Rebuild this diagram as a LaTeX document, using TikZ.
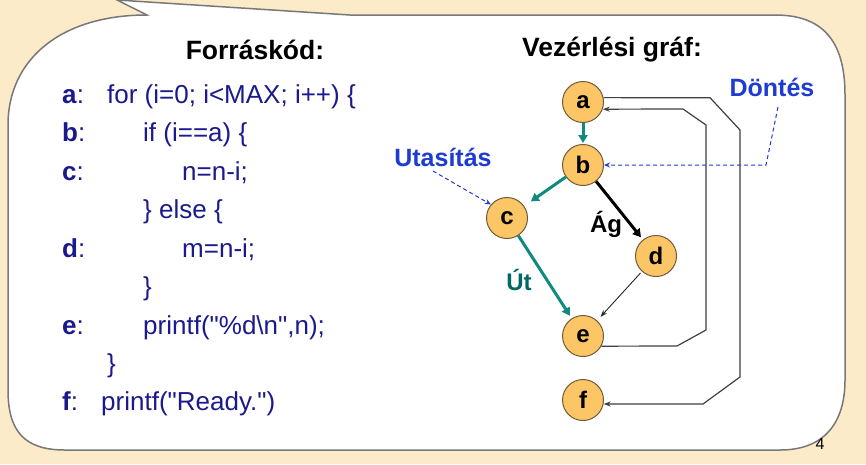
\documentclass[tikz,border=0pt]{standalone}
\usepackage{fontspec}
\setmainfont{Liberation Sans}[Ligatures=TeXOff]
\usetikzlibrary{arrows.meta,calc}

\definecolor{pagebg}{RGB}{252,235,201}
\definecolor{frameline}{RGB}{120,120,120}
\definecolor{codeblue}{RGB}{26,26,140}
\definecolor{noteblue}{RGB}{30,60,210}
\definecolor{flowteal}{RGB}{15,138,128}
\definecolor{labteal}{RGB}{0,105,100}
\definecolor{nodefill}{RGB}{252,197,101}
\definecolor{nodeline}{RGB}{110,90,60}

\tikzset{
  codeline/.style={anchor=base west, inner sep=0pt, text=codeblue,
    font=\fontsize{26}{30}\selectfont},
  title/.style={inner sep=0pt, font=\fontsize{26.5}{30}\selectfont\bfseries},
  cfgnode/.style={circle, draw=nodeline, line width=1pt, fill=nodefill,
    minimum size=41pt, inner sep=0pt, font=\fontsize{24}{26}\selectfont\bfseries},
  note/.style={inner sep=0pt, text=noteblue, font=\fontsize{25}{28}\selectfont\bfseries},
  flow/.style={draw=flowteal, line width=3pt, -{Triangle[length=8pt,width=9pt]}},
  branch/.style={draw=black, line width=3pt, -{Triangle[length=8pt,width=9pt]}},
  thinflow/.style={draw=black!85, line width=0.9pt, -{Stealth[length=7pt,width=5pt]}},
  loopline/.style={draw=black!75, line width=1.2pt, -{Stealth[length=7pt,width=5pt]}},
  notearrow/.style={draw=noteblue, line width=1pt, dash pattern=on 4pt off 3pt,
    -{Stealth[length=6pt,width=5pt]}},
}

\newcommand{\lbl}[1]{\textbf{#1}:}

\begin{document}
\begin{tikzpicture}[x=1pt,y=-1pt]
  % page background and the callout frame
  \fill[pagebg] (0,0) rectangle (866,464);
  \useasboundingbox (0,0) rectangle (866,464);
  \draw[frameline, line width=1.5pt, fill=white]
    (117,0) -- (147,15)
    .. controls (60,15) and (8,60) .. (8,125)
    -- (8,390)
    .. controls (8,432) and (25,450) .. (65,450)
    -- (780,450)
    .. controls (825,450) and (845,422) .. (845,380)
    -- (845,95)
    .. controls (845,40) and (822,15) .. (775,15)
    -- (350,15) -- cycle;

  \node[inner sep=0pt, font=\fontsize{16}{18}\selectfont] (pagenum) at (820,444) {4};

  % headings
  \node[title] (srchead) at (255,50) {Forráskód:};
  \node[title] (cfghead) at (612,50) {Vezérlési gráf:};

  % source code listing
  \node[codeline] (la) at (62,103)   {\lbl{a}};
  \node[codeline] (ca) at (107,103)  {for (i=0; i<MAX; i++) \{};
  \node[codeline] (lb) at (62,141.5) {\lbl{b}};
  \node[codeline] (cb) at (143,141.5){if (i==a) \{};
  \node[codeline] (lc) at (62,180)   {\lbl{c}};
  \node[codeline] (cc) at (182,180)  {n=n-i;};
  \node[codeline] (ce) at (143,218)  {\} else \{};
  \node[codeline] (ld) at (62,257)   {\lbl{d}};
  \node[codeline] (cd) at (182,257)  {m=n-i;};
  \node[codeline] (cx) at (143,295)  {\}};
  \node[codeline] (le) at (62,334)   {\lbl{e}};
  \node[codeline] (cf) at (143,334)  {printf("\%d\textbackslash n",n);};
  \node[codeline] (cy) at (107,372)  {\}};
  \node[codeline] (lf) at (62,410)   {\lbl{f}};
  \node[codeline] (cg) at (101,410)  {printf("Ready.")};

  % control flow graph
  \node[cfgnode] (a) at (583,102) {a};
  \node[cfgnode] (b) at (583,165) {b};
  \node[cfgnode] (c) at (507,218) {c};
  \node[cfgnode] (d) at (656,256) {d};
  \node[cfgnode] (e) at (583,336) {e};
  \node[cfgnode] (f) at (583,400) {f};

  \draw[flow, shorten >=1pt] (a) -- (b);
  \draw[flow, shorten >=8pt] (b) -- (c);
  \draw[branch, shorten >=3pt] (b) -- (d);
  \draw[flow, shorten >=3pt] (c) -- (e);
  \draw[thinflow, shorten >=5pt, shorten <=2pt] (d) -- (e);

  \node[inner sep=0pt, font=\fontsize{24}{28}\selectfont\bfseries] (ag) at (606,224) {Ág};
  \node[inner sep=0pt, text=labteal, font=\fontsize{24}{28}\selectfont\bfseries] (ut) at (519,280) {Út};

  % loop back edges
  \coordinate (ea1) at (677,346);
  \coordinate (ea2) at (706,330);
  \coordinate (ea3) at (706,125);
  \coordinate (ea4) at (683,109);
  \draw[loopline] (e.-29) -- (ea1) -- (ea2) -- (ea3) -- (ea4) -- (a.-20);

  \coordinate (af1) at (710,97.7);
  \coordinate (af2) at (740,130);
  \coordinate (af3) at (740,377);
  \coordinate (af4) at (703,404);
  \draw[loopline] (a.12) -- (af1) -- (af2) -- (af3) -- (af4) -- (f.-11);

  % annotations
  \node[note] (dontes) at (772,87) {Döntés};
  \node[note] (utasitas) at (443,157) {Utasítás};
  \coordinate (dn1) at (778,107);
  \coordinate (dn2) at (766,165);
  \draw[notearrow] (dn1) -- (dn2) -- (b.east);
  \coordinate (ut1) at (433,171);
  \draw[notearrow] (ut1) -- (c.140);
\end{tikzpicture}
\end{document}
